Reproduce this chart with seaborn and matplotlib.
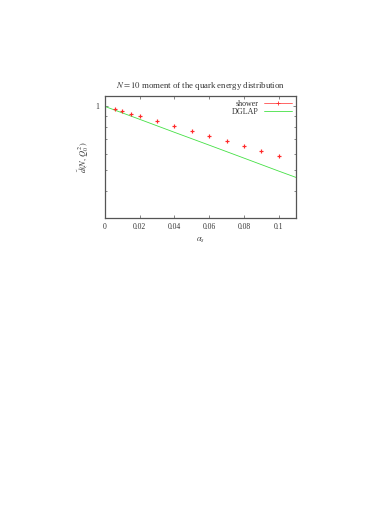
import numpy as np
import pandas as pd
import matplotlib
matplotlib.use("Agg")
import matplotlib.pyplot as plt
import seaborn as sns
from matplotlib.lines import Line2D
from matplotlib.ticker import FixedLocator, FixedFormatter, NullFormatter

# shower points
alpha_shower = [0.006, 0.01, 0.015, 0.02, 0.03, 0.04, 0.05, 0.06, 0.07, 0.08, 0.09, 0.1]
d_shower = [0.972, 0.947, 0.924, 0.898, 0.854, 0.809, 0.766, 0.726, 0.688, 0.652, 0.618, 0.587]

# DGLAP curve
alpha_dglap = [0.0, 0.02, 0.04, 0.06, 0.08, 0.1, 0.11]
d_dglap = [1.0, 0.870, 0.756, 0.658, 0.572, 0.497, 0.464]

x_ticks = [0, 0.02, 0.04, 0.06, 0.08, 0.1]
x_tick_labels = ["0", "0.02", "0.04", "0.06", "0.08", "0.1"]
y_minor = [0.4, 0.5, 0.6, 0.7, 0.8, 0.9]

shower = pd.DataFrame({"alpha": alpha_shower, "d": d_shower})
dglap = pd.DataFrame({"alpha": alpha_dglap, "d": d_dglap})

sns.set_theme(style="ticks")
plt.rcParams["font.family"] = ["Liberation Serif", "DejaVu Serif"]
plt.rcParams["mathtext.fontset"] = "stix"

fig = plt.figure(figsize=(3.74, 5.28), dpi=100)
ax = fig.add_axes([0.2807, 0.5877, 0.5107, 0.2305])

sns.lineplot(data=dglap, x="alpha", y="d", ax=ax, color="#44e044", lw=0.6)
ax.plot(shower["alpha"], shower["d"], linestyle="none", marker="+",
        color="#ff2a2a", markersize=2.6, markeredgewidth=0.85)

ax.set_yscale("log")
ax.set_xlim(0, 0.11)
ax.set_ylim(0.3, 1.12)
ax.set_xticks(x_ticks)
ax.set_xticklabels(x_tick_labels)
ax.yaxis.set_major_locator(FixedLocator([1]))
ax.yaxis.set_major_formatter(FixedFormatter(["1"]))
ax.yaxis.set_minor_locator(FixedLocator(y_minor))
ax.yaxis.set_minor_formatter(NullFormatter())

ax.tick_params(axis="both", which="both", direction="in", top=True, right=True,
               labelsize=5.5, length=2.5, width=0.5, pad=4, colors="#555555",
               labelcolor="#333333")
ax.tick_params(axis="y", which="minor", length=1.5)
for s in ax.spines.values():
    s.set_linewidth(0.9)
    s.set_color("#555555")

ax.set_title(r"$N=10$ moment of the quark energy distribution", fontsize=6.3,
             pad=6, color="#333333")
ax.set_xlabel(r"$\alpha_s$", fontsize=6, labelpad=3, color="#333333")
ax.set_ylabel(r"$\tilde{d}(N,\,Q_0^2)$", fontsize=6, labelpad=3, color="#333333")

handles = [Line2D([], [], color="#ff2a2a", lw=0.5, marker="+", markersize=2.6,
                  markeredgewidth=0.6),
           Line2D([], [], color="#44e044", lw=0.6)]
leg = ax.legend(handles, ["shower", "DGLAP"], loc="upper right", frameon=False,
                markerfirst=False, fontsize=5.8, handlelength=3.5,
                handletextpad=0.6, borderaxespad=0.1, labelspacing=0.0)
for t in leg.get_texts():
    t.set_color("#333333")

fig.savefig("out.png", dpi=100)
